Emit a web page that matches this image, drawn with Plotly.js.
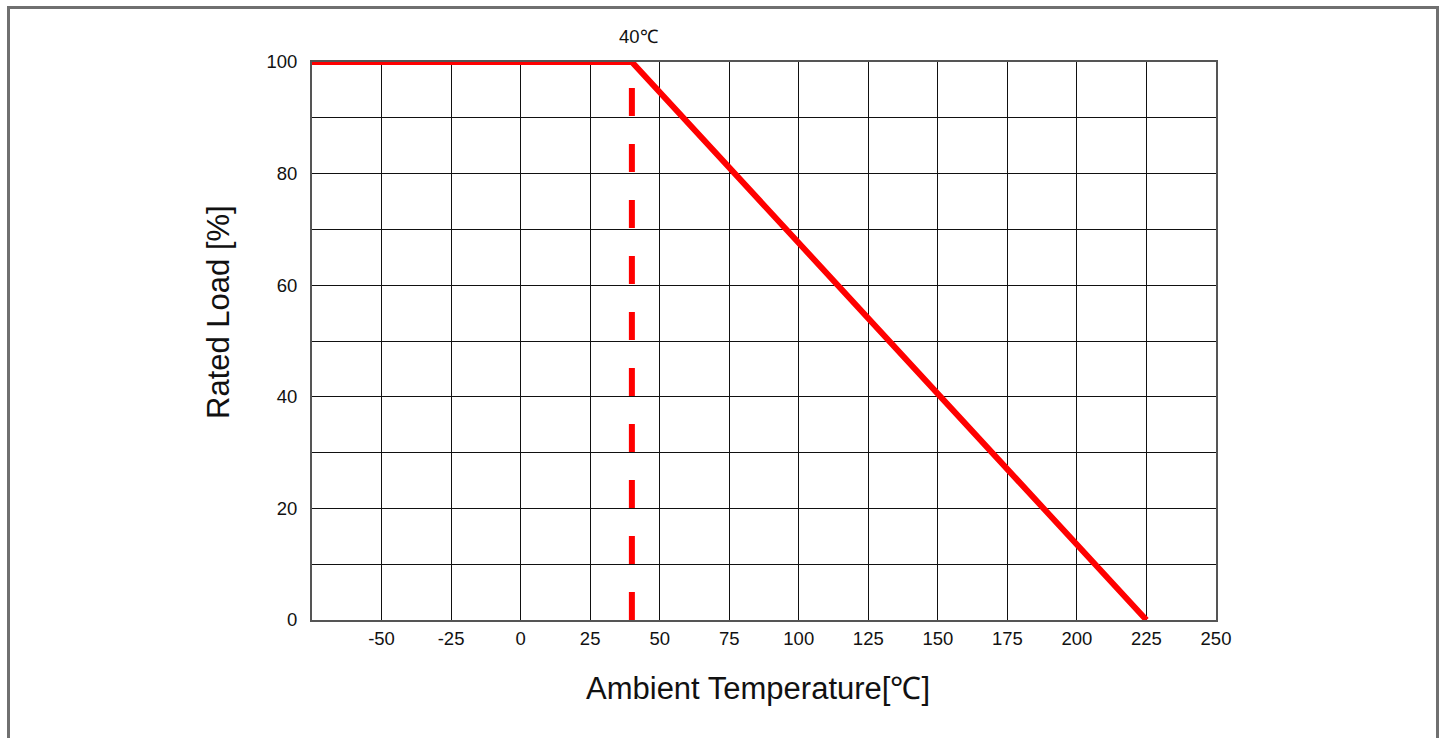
<!DOCTYPE html>
<html>
<head>
<meta charset="utf-8">
<script src="https://cdn.plot.ly/plotly-3.0.1.min.js"></script>
<style>
html,body{margin:0;padding:0;background:#fff;overflow:hidden;}
#frame{position:absolute;left:7px;top:6px;width:1432px;height:760px;border:3px solid #707070;border-bottom:none;box-sizing:border-box;pointer-events:none;z-index:5;}
#chart{position:absolute;left:0;top:0;width:1445px;height:738px;}
</style>
</head>
<body>
<div id="chart"></div>
<div id="frame"></div>
<script>
// Derating curve data
const tempC = [-75, 40, 225];
const loadPct = [100, 100, 0];
const kneeTemp = [40, 40];
const kneeLoad = [0, 100];
const xTickVals = [-50, -25, 0, 25, 50, 75, 100, 125, 150, 175, 200, 225, 250];
const xTickText = ["-50", "-25", "0", "25", "50", "75", "100", "125", "150", "175", "200", "225", "250"];
const yTickVals = [0, 20, 40, 60, 80, 100];
const yTickText = ["0", "20", "40", "60", "80", "100"];
const kneeLabel = "40℃";
const xTitle = "Ambient Temperature[℃]";
const yTitle = "Rated Load [%]";

const traces = [
  {x: kneeTemp, y: kneeLoad, mode: 'lines', line: {color: '#ff0000', width: 6, dash: '28px,28px'}, hoverinfo: 'skip', cliponaxis: false},
  {x: tempC, y: loadPct, mode: 'lines', line: {color: '#ff0000', width: 6}, cliponaxis: false}
];

const fam = 'Arial, "Liberation Sans", sans-serif';
const txt = '#111';

const layout = {
  width: 1445, height: 738,
  margin: {l: 312, r: 229, t: 62, b: 118},
  paper_bgcolor: '#fff', plot_bgcolor: '#fff',
  showlegend: false,
  font: {family: fam, color: txt},
  xaxis: {
    range: [-75, 250], tickmode: 'array', tickvals: xTickVals, ticktext: xTickText,
    showgrid: true, gridcolor: '#111', gridwidth: 1,
    zeroline: false, showline: true, linecolor: '#555', linewidth: 2, mirror: true,
    ticks: '', ticklabelstandoff: 1, tickfont: {size: 18.5, family: fam, color: txt}
  },
  yaxis: {
    range: [0, 100], tickmode: 'array', tickvals: yTickVals, ticktext: yTickText,
    showgrid: true, gridcolor: '#111', gridwidth: 1,
    minor: {dtick: 10, showgrid: true, gridcolor: '#111', gridwidth: 1, ticks: ''},
    zeroline: false, showline: true, linecolor: '#555', linewidth: 2, mirror: true,
    ticks: '', ticklabelstandoff: 9, tickfont: {size: 18.5, family: fam, color: txt}
  },
  annotations: [
    {x: kneeTemp[1], y: kneeLoad[1], xref: 'x', yref: 'y', text: kneeLabel, showarrow: false,
     yshift: 26, xshift: 7, font: {size: 18.5, family: fam, color: txt}},
    {x: 0.5, y: 0, xref: 'paper', yref: 'paper', text: xTitle, showarrow: false,
     xanchor: 'center', yanchor: 'middle', xshift: -6, yshift: -68,
     font: {size: 31, family: fam, color: txt}},
    {x: 0, y: 0.5, xref: 'paper', yref: 'paper', text: yTitle, showarrow: false, textangle: -90,
     xanchor: 'center', yanchor: 'middle', xshift: -94, yshift: 29,
     font: {size: 31, family: fam, color: txt}}
  ]
};

Plotly.newPlot('chart', traces, layout, {displayModeBar: false, staticPlot: true});
</script>
</body>
</html>
